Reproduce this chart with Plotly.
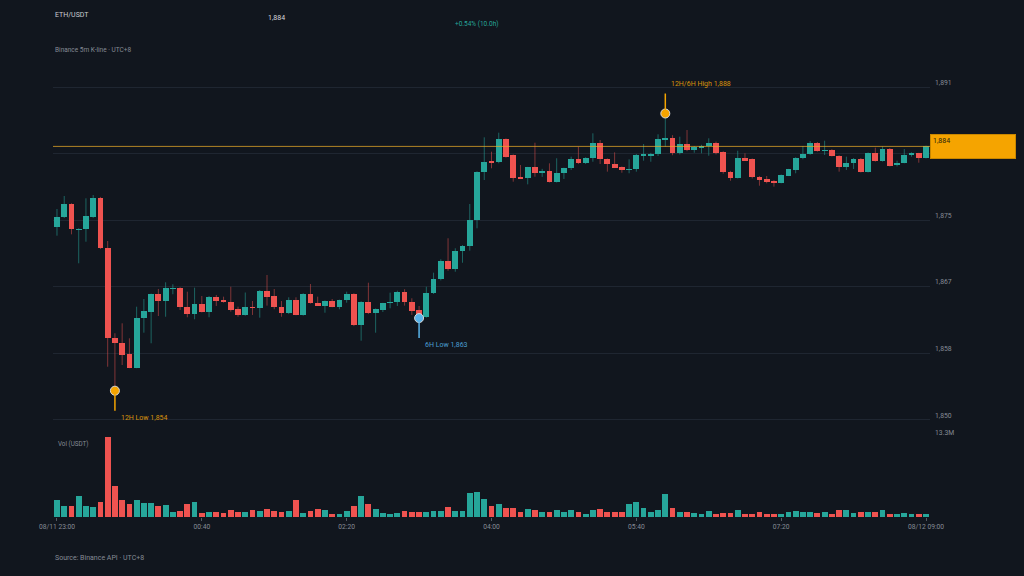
import pandas as pd
import plotly.graph_objects as go
from plotly.subplots import make_subplots

# ETH/USDT 5m candles, 08/11 23:00 -> 08/12 09:00 (UTC+8)
times = pd.date_range('2023-08-11 23:00', '2023-08-12 09:00', freq='5min')

opens = [
    1873.90, 1875.16, 1876.82, 1873.62, 1873.70, 1875.24, 1877.53, 1871.30, 1860.08, 1859.46,
    1858.09, 1856.42, 1862.57, 1863.40, 1865.57, 1864.77, 1866.28, 1866.39, 1864.02, 1863.11,
    1864.36, 1863.40, 1865.27, 1864.78, 1864.64, 1863.70, 1862.99, 1863.95, 1863.82, 1866.01,
    1865.35, 1864.02, 1863.20, 1864.86, 1862.99, 1865.60, 1864.52, 1864.15, 1864.73, 1864.02,
    1864.86, 1865.60, 1861.74, 1864.64, 1863.20, 1863.61, 1864.50, 1864.57, 1865.89, 1864.61,
    1863.61, 1862.77, 1865.77, 1867.51, 1869.75, 1868.72, 1870.96, 1871.62, 1874.83, 1880.77,
    1882.12, 1882.02, 1884.88, 1882.89, 1880.15, 1880.05, 1881.39, 1880.80, 1880.97, 1879.60,
    1880.65, 1881.27, 1882.43, 1881.97, 1882.52, 1884.39, 1882.43, 1881.81, 1881.39, 1881.10,
    1881.18, 1882.85, 1882.90, 1883.05, 1884.92, 1885.08, 1883.14, 1884.26, 1883.55, 1883.89,
    1884.05, 1884.46, 1883.26, 1880.85, 1880.10, 1882.52, 1882.39, 1880.22, 1879.90, 1879.72,
    1879.47, 1880.35, 1881.06, 1882.52, 1883.05, 1884.46, 1883.43, 1883.55, 1882.80, 1881.39,
    1881.97, 1882.47, 1880.85, 1883.14, 1882.22, 1883.67, 1881.64, 1881.97, 1882.88, 1883.14,
    1882.59,
]
highs = [
    1876.20, 1877.82, 1876.91, 1873.80, 1877.53, 1877.94, 1877.70, 1872.21, 1860.71, 1861.95,
    1860.08, 1864.02, 1864.98, 1865.65, 1866.23, 1867.06, 1866.81, 1866.45, 1865.89, 1866.39,
    1865.35, 1865.35, 1865.48, 1865.27, 1866.51, 1864.02, 1865.79, 1864.73, 1866.10, 1867.97,
    1866.23, 1864.73, 1865.19, 1865.19, 1865.70, 1866.85, 1865.27, 1864.80, 1864.98, 1864.90,
    1865.89, 1865.70, 1864.70, 1867.01, 1863.80, 1864.50, 1865.77, 1866.01, 1866.20, 1865.07,
    1864.11, 1866.51, 1868.26, 1869.93, 1872.55, 1871.30, 1871.70, 1876.82, 1880.90, 1885.13,
    1883.34, 1885.71, 1885.00, 1883.00, 1881.68, 1881.45, 1884.46, 1881.20, 1881.89, 1882.52,
    1881.35, 1882.72, 1883.96, 1882.65, 1885.63, 1884.80, 1882.50, 1883.26, 1881.50, 1882.39,
    1883.05, 1884.30, 1883.20, 1885.51, 1888.10, 1885.40, 1885.21, 1886.04, 1884.05, 1884.20,
    1885.01, 1884.60, 1883.40, 1880.95, 1883.46, 1883.14, 1882.50, 1880.30, 1880.31, 1879.80,
    1880.50, 1881.20, 1882.65, 1884.05, 1884.67, 1884.55, 1884.71, 1883.65, 1882.90, 1882.72,
    1882.55, 1882.55, 1883.25, 1883.84, 1884.00, 1883.80, 1882.22, 1883.67, 1883.26, 1883.20,
    1884.10,
]
lows = [
    1872.87, 1875.08, 1873.04, 1869.43, 1872.12, 1875.10, 1871.20, 1856.54, 1853.55, 1856.75,
    1856.35, 1856.35, 1860.78, 1859.46, 1862.86, 1862.77, 1865.57, 1863.61, 1862.70, 1862.45,
    1863.30, 1862.70, 1864.11, 1864.52, 1863.40, 1862.77, 1862.90, 1862.99, 1862.65, 1864.15,
    1863.70, 1862.77, 1863.10, 1862.95, 1862.90, 1864.40, 1864.10, 1863.27, 1863.95, 1863.70,
    1864.52, 1861.60, 1859.78, 1863.10, 1860.78, 1863.36, 1863.82, 1864.11, 1864.15, 1862.99,
    1862.60, 1862.65, 1865.60, 1867.30, 1868.50, 1868.38, 1869.50, 1871.00, 1873.79, 1879.81,
    1881.27, 1881.90, 1882.60, 1879.60, 1879.98, 1879.27, 1880.22, 1880.20, 1879.50, 1879.50,
    1879.94, 1881.06, 1881.80, 1881.80, 1882.09, 1881.81, 1880.85, 1881.30, 1880.72, 1880.65,
    1880.85, 1882.22, 1882.09, 1882.80, 1883.96, 1882.90, 1883.00, 1883.40, 1883.21, 1883.14,
    1882.84, 1883.00, 1880.60, 1879.72, 1880.00, 1882.20, 1880.00, 1879.10, 1879.40, 1878.98,
    1879.40, 1880.30, 1880.65, 1882.40, 1882.95, 1883.35, 1882.93, 1882.75, 1880.85, 1881.06,
    1881.18, 1880.75, 1880.75, 1882.10, 1882.10, 1881.50, 1881.50, 1881.90, 1882.72, 1881.97,
    1882.50,
]
closes = [
    1875.24, 1876.82, 1873.70, 1873.70, 1875.32, 1877.53, 1871.30, 1860.08, 1859.46, 1858.00,
    1856.42, 1862.57, 1863.48, 1865.57, 1864.77, 1866.31, 1866.35, 1863.95, 1863.11, 1864.36,
    1863.40, 1865.27, 1864.73, 1864.70, 1863.61, 1862.99, 1863.95, 1863.88, 1866.01, 1865.27,
    1863.95, 1863.20, 1864.86, 1862.99, 1865.60, 1864.52, 1864.15, 1864.73, 1864.02, 1864.86,
    1865.60, 1861.74, 1864.64, 1863.20, 1863.70, 1864.44, 1864.58, 1865.89, 1864.57, 1863.52,
    1862.70, 1865.77, 1867.51, 1869.75, 1868.72, 1870.96, 1871.62, 1874.83, 1880.77, 1882.09,
    1882.02, 1884.88, 1882.72, 1880.10, 1880.05, 1881.39, 1880.72, 1880.88, 1879.60, 1880.72,
    1881.27, 1882.43, 1881.89, 1882.52, 1884.46, 1882.43, 1881.81, 1881.34, 1881.06, 1881.18,
    1882.93, 1882.93, 1883.05, 1884.92, 1885.08, 1883.14, 1884.26, 1883.55, 1883.96, 1884.09,
    1884.48, 1883.14, 1880.77, 1880.10, 1882.52, 1882.30, 1880.15, 1879.81, 1879.60, 1879.52,
    1880.43, 1881.14, 1882.59, 1883.05, 1884.46, 1883.43, 1883.50, 1882.84, 1881.39, 1881.97,
    1882.47, 1880.85, 1883.14, 1882.22, 1883.67, 1881.59, 1881.97, 1882.93, 1883.14, 1882.59,
    1884.00,
]
# volume in million USDT
volumes = [
    2.77, 1.77, 1.88, 3.44, 1.88, 1.66, 2.44, 13.3, 5.10, 2.88,
    2.22, 2.88, 2.33, 2.33, 1.77, 2.00, 0.89, 1.00, 2.10, 2.55,
    0.67, 0.89, 0.89, 0.67, 1.22, 0.78, 0.89, 1.22, 1.00, 1.33,
    1.00, 0.78, 1.00, 2.88, 0.67, 1.00, 1.33, 1.11, 0.55, 0.55,
    1.00, 1.77, 3.44, 2.22, 1.33, 0.67, 0.55, 0.67, 1.00, 0.78,
    0.89, 0.78, 1.00, 1.00, 1.66, 1.00, 1.00, 3.99, 4.21, 2.99,
    1.77, 2.22, 1.44, 1.55, 0.89, 1.33, 1.22, 0.78, 0.78, 1.22,
    0.89, 1.11, 0.89, 0.44, 1.22, 1.33, 0.89, 0.89, 0.78, 2.10,
    2.55, 1.55, 0.78, 1.22, 3.77, 1.55, 0.78, 0.89, 0.67, 0.55,
    1.00, 0.55, 0.67, 0.67, 1.22, 0.44, 0.55, 0.78, 0.55, 0.55,
    0.44, 0.78, 1.00, 0.78, 0.89, 0.67, 0.78, 0.44, 1.22, 1.11,
    0.67, 0.78, 0.78, 0.78, 1.22, 0.55, 0.55, 0.67, 0.55, 0.55,
    0.44,
]

price_ticks = [1849.9, 1858.2, 1866.5, 1874.8, 1883.1, 1891.4]
price_tick_text = ['1,850', '1,858', '1,867', '1,875', '', '1,891']  # 1,883 sits under the price tag
time_ticks = ['2023-08-11 23:00', '2023-08-12 00:40', '2023-08-12 02:20', '2023-08-12 04:00',
              '2023-08-12 05:40', '2023-08-12 07:20', '2023-08-12 09:00']
time_tick_text = ['08/11 23:00', '00:40', '02:20', '04:00', '05:40', '07:20', '08/12 09:00']

# marked extremes: (label, candle index, kind)
marks = [('12H Low', 8, 'low'), ('6H Low', 50, 'low'), ('12H/6H High', 84, 'high')]

UP = '#26a69a'
DOWN = '#ef5350'
UP_WICK = 'rgba(38,166,154,0.55)'
DOWN_WICK = 'rgba(239,83,80,0.5)'
ORANGE = '#f5a400'
ORANGE_TXT = '#d9920c'
BLUE = '#5ab4ea'
BLUE_TXT = '#4b9fd2'
BG = '#11161e'
GRID = '#1f2631'
MUTED = '#858b95'
FONT = 'Roboto, Inter, sans-serif'

df = pd.DataFrame({'t': times, 'o': opens, 'h': highs, 'l': lows, 'c': closes, 'v': volumes})
df['up'] = df['c'] >= df['o']
colors = [UP if u else DOWN for u in df['up']]
bar_w = 5 * 60 * 1000 * 0.8

fig = make_subplots(rows=2, cols=1, shared_xaxes=True)

# wicks
for is_up, col in [(True, UP_WICK), (False, DOWN_WICK)]:
    sub = df[df['up'] == is_up]
    xs, ys = [], []
    for t, lo, hi in zip(sub['t'], sub['l'], sub['h']):
        xs += [t, t, None]
        ys += [lo, hi, None]
    fig.add_trace(go.Scatter(x=xs, y=ys, mode='lines', line=dict(color=col, width=1),
                             hoverinfo='skip', showlegend=False), row=1, col=1)

# bodies
body_base = df[['o', 'c']].min(axis=1)
body_len = (df['c'] - df['o']).abs().clip(lower=0.06)
fig.add_trace(go.Bar(x=df['t'], y=body_len, base=body_base, width=bar_w,
                     marker=dict(color=colors, line=dict(width=0)),
                     customdata=df[['o', 'h', 'l', 'c']],
                     hovertemplate='O %{customdata[0]}<br>H %{customdata[1]}<br>L %{customdata[2]}<br>C %{customdata[3]}<extra></extra>',
                     showlegend=False), row=1, col=1)

# volume
fig.add_trace(go.Bar(x=df['t'], y=df['v'] * 1e6, width=bar_w,
                     marker=dict(color=colors, line=dict(width=0)),
                     showlegend=False), row=2, col=1)

# last price line + tag
last = closes[-1]
fig.add_shape(type='line', xref='x domain', x0=0, x1=1, yref='y', y0=last, y1=last,
              line=dict(color='rgba(232,170,40,0.75)', width=1))
fig.add_annotation(xref='paper', x=1, yref='y', y=last, xanchor='left', yanchor='middle',
                   text=f'{last:,.0f}', showarrow=False, align='left', valign='top',
                   width=80, height=19, bgcolor=ORANGE, bordercolor='#c98700', borderwidth=1,
                   borderpad=2, font=dict(color='#2a2208', size=7, family=FONT))

# extreme markers
for label, i, kind in marks:
    t = times[i]
    val = lows[i] if kind == 'low' else highs[i]
    col, tcol = (BLUE, BLUE_TXT) if label.startswith('6H') else (ORANGE, ORANGE_TXT)
    stem = -20 if kind == 'low' else 20
    fig.add_shape(type='line', xref='x', x0=t, x1=t, yref='y', ysizemode='pixel', yanchor=val,
                  y0=0, y1=stem, line=dict(color=col, width=1.5), layer='above')
    fig.add_trace(go.Scatter(x=[t], y=[val], mode='markers',
                             marker=dict(size=9, color=col, line=dict(color='#d8d8d8', width=1)),
                             hoverinfo='skip', showlegend=False), row=1, col=1)
    fig.add_annotation(xref='x', x=t, yref='y', y=val, xanchor='left', yanchor='middle',
                       xshift=4, yshift=-27 if kind == 'low' else 30, showarrow=False,
                       text=f'{label} {val:,.0f}', font=dict(color=tcol, size=7, family=FONT))

# header / footer texts
def txt(text, px, py, color=MUTED, size=7):
    fig.add_annotation(xref='paper', yref='paper', x=(px - 53) / 877, y=(517 - py) / 455,
                       xanchor='left', yanchor='middle', text=text, showarrow=False,
                       font=dict(color=color, size=size, family=FONT))

txt('ETH/USDT', 53, 15, color='#c9ccd2', size=7)
txt(f'{last:,.0f}', 266, 18, color='#d6d8dd', size=7)
txt('+0.54% (10.0h)', 453, 24, color=UP, size=6.5)
txt('Binance 5m K-line · UTC+8', 53, 50, size=6.5)
txt('Source: Binance API · UTC+8', 53, 558, size=7)
txt('Vol (USDT)', 56, 444, size=6.3)

x_range = [times[0] - pd.Timedelta(seconds=165), times[-1] + pd.Timedelta(seconds=165)]

fig.update_layout(
    width=1024, height=576,
    paper_bgcolor=BG, plot_bgcolor=BG,
    margin=dict(l=53, r=94, t=62, b=59),
    bargap=0, showlegend=False,
    font=dict(family=FONT, color=MUTED, size=7),
    xaxis=dict(range=x_range, showgrid=False, showticklabels=False, zeroline=False,
               rangeslider=dict(visible=False)),
    xaxis2=dict(range=x_range, showgrid=False, zeroline=False, tickvals=time_ticks,
                ticktext=time_tick_text, ticks='outside', ticklen=3, tickcolor='#555b64',
                tickfont=dict(size=6.7, color=MUTED), showline=False),
    yaxis=dict(domain=[0.1956, 1], side='right', range=[1848.9, 1894.52],
               tickvals=price_ticks, ticktext=price_tick_text, gridcolor=GRID, gridwidth=1,
               zeroline=False, ticklabelposition='outside top', ticklabelstandoff=4,
               tickfont=dict(size=6.8, color=MUTED)),
    yaxis2=dict(domain=[0, 0.1758], side='right', range=[0, 13.3e6], tickvals=[13.3e6],
                ticktext=['13.3M'], gridcolor=GRID, zeroline=False,
                ticklabelposition='outside top', ticklabelstandoff=4,
                tickfont=dict(size=6.8, color=MUTED)),
)

fig.write_html('out.html', config={'displayModeBar': False},
               post_script="document.body.style.margin='0';")
